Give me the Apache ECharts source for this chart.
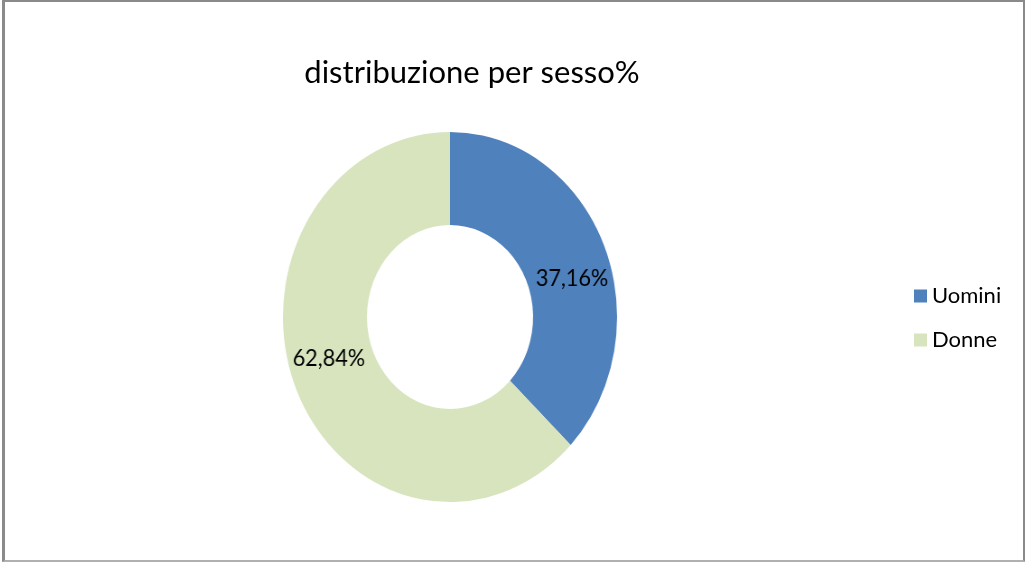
<!DOCTYPE html>
<html>
<head>
<meta charset="utf-8">
<script src="https://cdn.jsdelivr.net/npm/echarts@6/dist/echarts.min.js"></script>
<style>
    html, body {
        margin: 0;
        padding: 0;
        background: #ffffff;
    }
    .frame {
        position: absolute;
        left: 2px;
        top: 0px;
        width: 1018px;
        height: 558px;
        border: 3px solid #8a8a8a;
        border-top-width: 2px;
        border-bottom: 2px solid #b0b0b0;
        box-sizing: content-box;
    }
    .layer {
        position: absolute;
        left: 0;
        top: 0;
        width: 1025px;
        height: 562px;
    }
    /* the reference donut is a bit taller than wide */
    #pie {
        transform-origin: 450px 317px;
        transform: scaleX(0.903);
    }
</style>
</head>
<body>
<div class="frame"></div>
<div id="pie" class="layer"></div>
<div id="main" class="layer"></div>
<script>
// data
const titleText = 'distribuzione per sesso%'
const categories = ['Uomini', 'Donne']
const values = [37.16, 62.84]
const colors = ['#4f81bd', '#d7e4bd']

// label nudges so they sit like in the original
const labelOffsets = [[5, 17], [-4, -14]]

const fontFamily = 'Lato, "Open Sans", sans-serif'

const pieChart = echarts.init(document.getElementById('pie'), null, { renderer: 'canvas' })
const mainChart = echarts.init(document.getElementById('main'), null, { renderer: 'canvas' })

// 饼图 (donut)
const pieOption = {
    animation: false,
    series: [
        {
            type: 'pie',
            center: [450, 317],
            radius: [92, 185],
            startAngle: 90,
            clockwise: true,
            silent: true,
            label: {
                position: 'inside',
                color: '#000',
                fontSize: 24,
                fontFamily: fontFamily,
                formatter: p => p.value.toFixed(2).replace('.', ',') + '%'
            },
            labelLine: { show: false },
            data: categories.map((name, i) => ({
                name: name,
                value: values[i],
                itemStyle: { color: colors[i] },
                label: { offset: labelOffsets[i] }
            }))
        }
    ]
}

// title + legend, not stretched
const mainOption = {
    animation: false,
    title: {
        text: titleText,
        left: 467,
        textAlign: 'center',
        top: 52,
        textStyle: {
            color: '#000',
            fontSize: 31,
            fontWeight: 'normal',
            fontFamily: fontFamily
        }
    },
    legend: {
        orient: 'vertical',
        left: 909,
        top: 280,
        itemWidth: 13,
        itemHeight: 13,
        itemGap: 22,
        icon: 'rect',
        textStyle: {
            color: '#000',
            fontSize: 22,
            fontFamily: fontFamily
        },
        data: categories.map((name, i) => ({ name: name, itemStyle: { color: colors[i] } }))
    },
    series: [
        {
            // hidden series so the legend has its items
            type: 'pie',
            radius: 0,
            silent: true,
            label: { show: false },
            data: categories.map((name, i) => ({ name: name, value: values[i], itemStyle: { color: colors[i] } }))
        }
    ]
}

pieChart.setOption(pieOption)
mainChart.setOption(mainOption)
</script>
</body>
</html>
